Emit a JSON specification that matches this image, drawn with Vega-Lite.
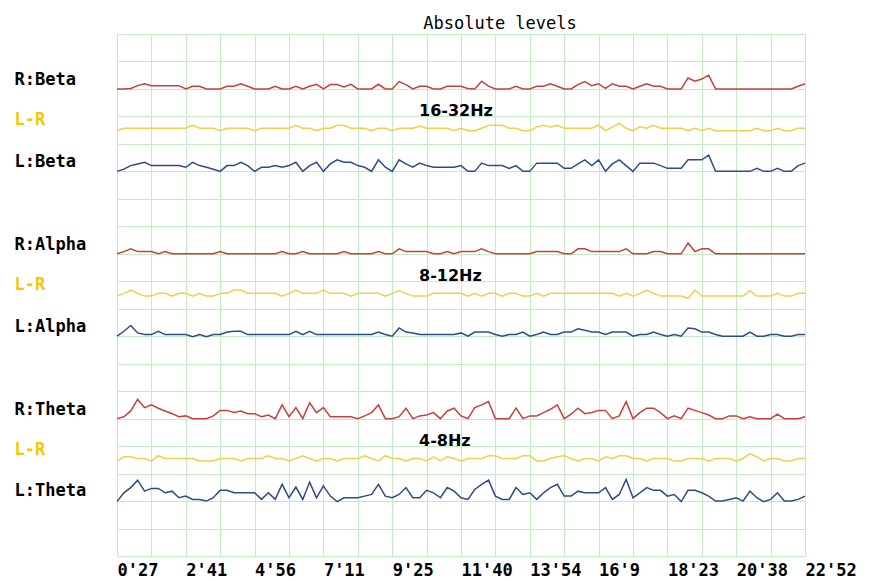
{
"$schema": "https://vega.github.io/schema/vega-lite/v6.json",
"width": 688,
"height": 522,
"autosize": {"type": "none"},
"padding": {"left": 117, "top": 34, "right": 68, "bottom": 25},
"background": "white",
"title": {"text": "Absolute levels", "font": "DejaVu Sans Mono", "fontSize": 17, "fontWeight": "normal", "color": "#000000", "anchor": "middle", "dx": 39, "offset": 1},
"config": {"view": {"stroke": "#c4ecc4", "strokeWidth": 1}},
"datasets": {
"levels": [
{"n":0,"rb":170.0,"yb":154.8,"lb":140.0,"ra":110.0,"ya":94.6,"la":80.0,"rt":50.0,"yt":34.6,"lt":19.8},
{"n":1,"rb":170.0,"yb":155.7,"lb":140.8,"ra":110.8,"ya":95.6,"la":81.8,"rt":50.7,"yt":36.1,"lt":23.0},
{"n":2,"rb":170.2,"yb":155.7,"lb":142.1,"ra":111.8,"ya":96.8,"la":83.9,"rt":52.8,"yt":36.1,"lt":24.9},
{"n":3,"rb":171.2,"yb":155.7,"lb":142.7,"ra":110.8,"ya":95.6,"la":81.2,"rt":57.0,"yt":35.5,"lt":27.6},
{"n":4,"rb":171.9,"yb":155.7,"lb":143.3,"ra":110.8,"ya":94.6,"la":80.6,"rt":54.0,"yt":35.5,"lt":23.6},
{"n":5,"rb":171.2,"yb":155.7,"lb":142.1,"ra":110.8,"ya":94.6,"la":80.6,"rt":55.0,"yt":34.6,"lt":24.6},
{"n":6,"rb":171.2,"yb":155.7,"lb":142.1,"ra":110.0,"ya":95.6,"la":81.8,"rt":53.8,"yt":36.5,"lt":24.6},
{"n":7,"rb":171.2,"yb":155.7,"lb":142.1,"ra":110.8,"ya":95.6,"la":80.6,"rt":52.8,"yt":35.5,"lt":23.0},
{"n":8,"rb":171.2,"yb":155.7,"lb":142.1,"ra":110.0,"ya":94.6,"la":80.6,"rt":51.8,"yt":35.5,"lt":23.6},
{"n":9,"rb":171.2,"yb":155.7,"lb":142.1,"ra":110.0,"ya":95.6,"la":80.6,"rt":50.7,"yt":35.5,"lt":21.2},
{"n":10,"rb":170.0,"yb":155.7,"lb":141.5,"ra":110.0,"ya":95.6,"la":80.6,"rt":51.0,"yt":35.5,"lt":21.8},
{"n":11,"rb":171.0,"yb":156.8,"lb":143.3,"ra":110.0,"ya":94.6,"la":79.8,"rt":50.0,"yt":35.5,"lt":20.6},
{"n":12,"rb":171.0,"yb":155.7,"lb":142.1,"ra":110.0,"ya":95.6,"la":80.6,"rt":50.0,"yt":34.6,"lt":20.6},
{"n":13,"rb":170.0,"yb":155.7,"lb":141.5,"ra":110.0,"ya":94.6,"la":79.8,"rt":50.0,"yt":34.6,"lt":20.0},
{"n":14,"rb":170.0,"yb":155.7,"lb":140.8,"ra":110.0,"ya":94.6,"la":80.6,"rt":51.0,"yt":34.6,"lt":21.2},
{"n":15,"rb":170.0,"yb":154.8,"lb":140.0,"ra":110.8,"ya":95.6,"la":80.6,"rt":53.0,"yt":35.5,"lt":23.9},
{"n":16,"rb":171.0,"yb":155.7,"lb":142.1,"ra":110.0,"ya":95.6,"la":81.5,"rt":53.0,"yt":35.5,"lt":23.9},
{"n":17,"rb":171.0,"yb":155.7,"lb":142.1,"ra":110.0,"ya":96.8,"la":81.8,"rt":52.2,"yt":35.5,"lt":23.0},
{"n":18,"rb":171.9,"yb":155.7,"lb":143.3,"ra":110.0,"ya":96.8,"la":81.8,"rt":52.8,"yt":34.6,"lt":23.0},
{"n":19,"rb":171.0,"yb":155.7,"lb":142.1,"ra":110.0,"ya":95.6,"la":80.6,"rt":51.8,"yt":35.5,"lt":23.0},
{"n":20,"rb":170.0,"yb":154.8,"lb":140.0,"ra":110.0,"ya":95.6,"la":80.6,"rt":51.8,"yt":35.5,"lt":23.0},
{"n":21,"rb":170.0,"yb":155.7,"lb":141.5,"ra":110.0,"ya":95.6,"la":80.6,"rt":50.7,"yt":35.5,"lt":20.6},
{"n":22,"rb":170.0,"yb":155.7,"lb":141.5,"ra":110.0,"ya":95.6,"la":80.6,"rt":51.3,"yt":36.5,"lt":23.0},
{"n":23,"rb":171.0,"yb":155.7,"lb":142.1,"ra":110.0,"ya":95.6,"la":80.6,"rt":50.0,"yt":35.5,"lt":20.6},
{"n":24,"rb":170.0,"yb":155.7,"lb":141.5,"ra":110.8,"ya":94.6,"la":80.6,"rt":55.0,"yt":35.5,"lt":26.1},
{"n":25,"rb":170.0,"yb":155.7,"lb":142.1,"ra":110.0,"ya":95.6,"la":80.6,"rt":50.7,"yt":34.6,"lt":21.2},
{"n":26,"rb":171.0,"yb":156.8,"lb":143.3,"ra":110.0,"ya":96.8,"la":81.8,"rt":54.0,"yt":35.5,"lt":25.1},
{"n":27,"rb":170.0,"yb":155.7,"lb":140.0,"ra":110.8,"ya":95.6,"la":80.6,"rt":50.0,"yt":36.5,"lt":20.6},
{"n":28,"rb":171.0,"yb":155.7,"lb":142.1,"ra":110.0,"ya":95.6,"la":81.8,"rt":55.8,"yt":35.5,"lt":26.9},
{"n":29,"rb":171.7,"yb":154.8,"lb":143.3,"ra":110.0,"ya":95.6,"la":80.6,"rt":52.2,"yt":34.6,"lt":21.2},
{"n":30,"rb":170.0,"yb":155.7,"lb":140.0,"ra":110.0,"ya":96.8,"la":80.6,"rt":54.0,"yt":35.5,"lt":25.5},
{"n":31,"rb":171.6,"yb":155.7,"lb":142.7,"ra":110.0,"ya":95.6,"la":80.6,"rt":50.7,"yt":35.5,"lt":21.8},
{"n":32,"rb":171.6,"yb":156.8,"lb":144.2,"ra":110.0,"ya":95.6,"la":80.6,"rt":50.7,"yt":34.6,"lt":19.8},
{"n":33,"rb":170.7,"yb":156.8,"lb":143.3,"ra":110.8,"ya":95.6,"la":80.6,"rt":50.7,"yt":35.5,"lt":21.2},
{"n":34,"rb":171.7,"yb":155.7,"lb":143.3,"ra":110.0,"ya":94.6,"la":80.6,"rt":50.7,"yt":35.5,"lt":21.2},
{"n":35,"rb":170.0,"yb":155.7,"lb":142.1,"ra":110.0,"ya":95.6,"la":80.6,"rt":50.0,"yt":35.5,"lt":21.2},
{"n":36,"rb":170.0,"yb":155.7,"lb":141.5,"ra":110.0,"ya":95.6,"la":80.6,"rt":51.0,"yt":36.5,"lt":21.8},
{"n":37,"rb":170.0,"yb":154.8,"lb":140.0,"ra":110.0,"ya":95.6,"la":80.6,"rt":52.2,"yt":35.5,"lt":22.4},
{"n":38,"rb":171.7,"yb":155.7,"lb":144.2,"ra":110.8,"ya":95.6,"la":81.5,"rt":55.0,"yt":34.6,"lt":26.1},
{"n":39,"rb":170.0,"yb":155.7,"lb":141.5,"ra":110.0,"ya":94.6,"la":80.6,"rt":50.0,"yt":36.5,"lt":21.8},
{"n":40,"rb":170.0,"yb":154.8,"lb":140.0,"ra":110.0,"ya":95.6,"la":80.0,"rt":50.0,"yt":35.5,"lt":21.2},
{"n":41,"rb":172.7,"yb":155.7,"lb":144.2,"ra":111.8,"ya":96.6,"la":83.0,"rt":50.7,"yt":35.5,"lt":22.4},
{"n":42,"rb":171.6,"yb":155.7,"lb":142.7,"ra":110.8,"ya":95.6,"la":81.5,"rt":53.8,"yt":34.6,"lt":24.9},
{"n":43,"rb":170.0,"yb":155.7,"lb":141.5,"ra":110.8,"ya":94.6,"la":81.2,"rt":50.0,"yt":35.5,"lt":21.2},
{"n":44,"rb":171.0,"yb":156.5,"lb":143.0,"ra":110.8,"ya":94.6,"la":80.6,"rt":51.0,"yt":35.5,"lt":21.2},
{"n":45,"rb":171.0,"yb":155.7,"lb":142.1,"ra":110.8,"ya":94.6,"la":80.6,"rt":51.3,"yt":34.6,"lt":23.9},
{"n":46,"rb":170.0,"yb":155.7,"lb":141.5,"ra":110.0,"ya":95.6,"la":80.6,"rt":52.2,"yt":36.1,"lt":23.0},
{"n":47,"rb":170.0,"yb":155.7,"lb":141.5,"ra":110.0,"ya":95.6,"la":80.6,"rt":50.0,"yt":34.6,"lt":21.2},
{"n":48,"rb":171.0,"yb":155.7,"lb":141.5,"ra":110.8,"ya":95.6,"la":80.6,"rt":52.8,"yt":36.1,"lt":24.9},
{"n":49,"rb":171.0,"yb":154.8,"lb":141.5,"ra":110.0,"ya":95.6,"la":80.6,"rt":53.8,"yt":35.5,"lt":23.6},
{"n":50,"rb":171.0,"yb":155.7,"lb":142.1,"ra":110.8,"ya":95.6,"la":81.2,"rt":51.0,"yt":34.6,"lt":21.2},
{"n":51,"rb":170.2,"yb":154.8,"lb":140.0,"ra":110.8,"ya":94.6,"la":80.0,"rt":50.0,"yt":35.5,"lt":20.6},
{"n":52,"rb":170.0,"yb":154.8,"lb":140.0,"ra":110.8,"ya":95.6,"la":81.5,"rt":54.0,"yt":35.5,"lt":24.2},
{"n":53,"rb":172.8,"yb":155.7,"lb":143.0,"ra":111.8,"ya":94.6,"la":81.5,"rt":55.0,"yt":35.5,"lt":26.1},
{"n":54,"rb":171.0,"yb":156.8,"lb":142.1,"ra":110.8,"ya":95.6,"la":81.5,"rt":56.2,"yt":36.5,"lt":27.6},
{"n":55,"rb":170.0,"yb":156.8,"lb":142.1,"ra":110.0,"ya":95.6,"la":80.6,"rt":50.0,"yt":36.5,"lt":21.8},
{"n":56,"rb":170.0,"yb":156.8,"lb":142.1,"ra":110.0,"ya":94.6,"la":80.0,"rt":50.0,"yt":35.5,"lt":20.6},
{"n":57,"rb":170.0,"yb":155.7,"lb":141.1,"ra":110.0,"ya":95.6,"la":80.6,"rt":50.0,"yt":35.5,"lt":20.6},
{"n":58,"rb":171.0,"yb":155.7,"lb":142.1,"ra":110.0,"ya":95.6,"la":80.6,"rt":53.8,"yt":35.5,"lt":24.9},
{"n":59,"rb":170.0,"yb":154.8,"lb":140.0,"ra":110.0,"ya":94.6,"la":81.5,"rt":50.0,"yt":36.5,"lt":22.4},
{"n":60,"rb":170.0,"yb":154.8,"lb":140.0,"ra":110.0,"ya":94.6,"la":80.0,"rt":51.0,"yt":36.5,"lt":23.0},
{"n":61,"rb":171.0,"yb":156.2,"lb":143.0,"ra":110.8,"ya":95.6,"la":80.6,"rt":51.0,"yt":34.6,"lt":20.6},
{"n":62,"rb":171.0,"yb":156.8,"lb":143.0,"ra":110.8,"ya":94.6,"la":81.5,"rt":52.2,"yt":34.6,"lt":23.0},
{"n":63,"rb":171.9,"yb":156.2,"lb":143.0,"ra":110.8,"ya":95.6,"la":80.6,"rt":53.4,"yt":35.5,"lt":24.9},
{"n":64,"rb":171.0,"yb":156.8,"lb":143.0,"ra":110.8,"ya":95.6,"la":80.6,"rt":55.0,"yt":36.1,"lt":26.1},
{"n":65,"rb":170.0,"yb":155.7,"lb":141.1,"ra":110.0,"ya":95.6,"la":81.5,"rt":50.0,"yt":36.5,"lt":21.8},
{"n":66,"rb":170.0,"yb":155.7,"lb":141.1,"ra":110.0,"ya":95.6,"la":81.5,"rt":51.6,"yt":35.5,"lt":21.8},
{"n":67,"rb":171.6,"yb":155.7,"lb":142.7,"ra":111.8,"ya":95.6,"la":82.7,"rt":53.8,"yt":34.6,"lt":23.6},
{"n":68,"rb":172.7,"yb":155.7,"lb":144.2,"ra":111.8,"ya":95.6,"la":82.2,"rt":51.8,"yt":35.5,"lt":23.0},
{"n":69,"rb":171.2,"yb":155.7,"lb":142.1,"ra":110.8,"ya":95.6,"la":81.5,"rt":52.2,"yt":35.5,"lt":23.0},
{"n":70,"rb":171.9,"yb":156.8,"lb":144.2,"ra":110.8,"ya":95.6,"la":81.5,"rt":53.0,"yt":34.6,"lt":23.0},
{"n":71,"rb":170.2,"yb":154.8,"lb":140.0,"ra":110.8,"ya":95.6,"la":80.6,"rt":53.0,"yt":36.1,"lt":24.9},
{"n":72,"rb":171.9,"yb":156.2,"lb":142.7,"ra":110.8,"ya":95.6,"la":81.5,"rt":50.0,"yt":35.5,"lt":20.6},
{"n":73,"rb":171.0,"yb":157.5,"lb":144.2,"ra":110.8,"ya":94.6,"la":81.5,"rt":51.0,"yt":36.5,"lt":22.4},
{"n":74,"rb":171.0,"yb":155.7,"lb":142.1,"ra":111.8,"ya":95.6,"la":81.5,"rt":56.2,"yt":36.5,"lt":27.9},
{"n":75,"rb":170.0,"yb":154.8,"lb":140.0,"ra":110.0,"ya":94.6,"la":80.0,"rt":50.0,"yt":35.5,"lt":21.2},
{"n":76,"rb":171.0,"yb":156.2,"lb":143.0,"ra":110.0,"ya":95.6,"la":80.6,"rt":52.2,"yt":35.5,"lt":23.0},
{"n":77,"rb":171.9,"yb":155.7,"lb":143.0,"ra":110.0,"ya":96.8,"la":80.6,"rt":53.8,"yt":34.6,"lt":24.9},
{"n":78,"rb":171.0,"yb":156.8,"lb":143.0,"ra":110.8,"ya":95.6,"la":81.5,"rt":53.8,"yt":35.5,"lt":23.9},
{"n":79,"rb":171.0,"yb":155.7,"lb":142.1,"ra":110.8,"ya":94.6,"la":80.6,"rt":52.2,"yt":35.5,"lt":23.9},
{"n":80,"rb":170.0,"yb":155.7,"lb":141.1,"ra":110.0,"ya":94.6,"la":80.0,"rt":50.0,"yt":35.5,"lt":21.8},
{"n":81,"rb":170.0,"yb":155.7,"lb":141.1,"ra":110.0,"ya":94.6,"la":80.6,"rt":51.0,"yt":34.6,"lt":22.4},
{"n":82,"rb":170.0,"yb":155.7,"lb":141.1,"ra":110.0,"ya":94.6,"la":80.0,"rt":50.0,"yt":34.6,"lt":19.8},
{"n":83,"rb":174.0,"yb":154.8,"lb":144.2,"ra":113.9,"ya":93.8,"la":83.0,"rt":53.8,"yt":35.5,"lt":23.9},
{"n":84,"rb":172.8,"yb":155.7,"lb":144.2,"ra":110.8,"ya":96.8,"la":82.7,"rt":53.0,"yt":35.5,"lt":23.9},
{"n":85,"rb":173.6,"yb":154.8,"lb":144.2,"ra":111.8,"ya":94.6,"la":81.5,"rt":52.2,"yt":35.5,"lt":23.0},
{"n":86,"rb":175.0,"yb":155.7,"lb":145.9,"ra":111.8,"ya":94.6,"la":81.5,"rt":51.3,"yt":34.6,"lt":21.8},
{"n":87,"rb":170.0,"yb":154.8,"lb":140.0,"ra":110.0,"ya":94.6,"la":80.6,"rt":50.0,"yt":35.5,"lt":20.0},
{"n":88,"rb":170.0,"yb":154.8,"lb":140.0,"ra":110.0,"ya":94.6,"la":80.0,"rt":50.0,"yt":35.5,"lt":20.0},
{"n":89,"rb":170.0,"yb":154.8,"lb":140.0,"ra":110.0,"ya":94.6,"la":80.0,"rt":51.0,"yt":35.5,"lt":20.6},
{"n":90,"rb":170.0,"yb":154.8,"lb":140.0,"ra":110.0,"ya":94.6,"la":80.0,"rt":51.0,"yt":34.6,"lt":21.2},
{"n":91,"rb":170.0,"yb":154.8,"lb":140.0,"ra":110.0,"ya":94.6,"la":80.0,"rt":50.0,"yt":35.5,"lt":20.0},
{"n":92,"rb":170.0,"yb":154.8,"lb":140.0,"ra":110.0,"ya":96.6,"la":81.5,"rt":50.7,"yt":37.3,"lt":23.6},
{"n":93,"rb":170.0,"yb":155.7,"lb":141.1,"ra":110.0,"ya":94.6,"la":80.0,"rt":50.0,"yt":36.1,"lt":21.2},
{"n":94,"rb":170.0,"yb":154.8,"lb":140.0,"ra":110.0,"ya":94.6,"la":80.0,"rt":50.0,"yt":34.6,"lt":19.8},
{"n":95,"rb":170.0,"yb":154.8,"lb":140.0,"ra":110.0,"ya":94.6,"la":80.6,"rt":50.0,"yt":35.5,"lt":20.6},
{"n":96,"rb":170.0,"yb":155.7,"lb":141.1,"ra":110.0,"ya":95.6,"la":80.6,"rt":51.6,"yt":35.5,"lt":23.0},
{"n":97,"rb":170.0,"yb":154.8,"lb":140.0,"ra":110.0,"ya":94.6,"la":80.0,"rt":50.0,"yt":34.6,"lt":20.0},
{"n":98,"rb":170.0,"yb":154.8,"lb":140.0,"ra":110.0,"ya":94.6,"la":80.0,"rt":50.0,"yt":34.6,"lt":20.0},
{"n":99,"rb":171.0,"yb":155.7,"lb":142.1,"ra":110.0,"ya":95.6,"la":80.6,"rt":50.0,"yt":35.5,"lt":20.6},
{"n":100,"rb":171.9,"yb":155.7,"lb":143.0,"ra":110.0,"ya":95.6,"la":80.6,"rt":50.7,"yt":35.5,"lt":21.8}
],
"bands": [
{"n":43.9,"level":161.8,"band":"16-32Hz"},
{"n":43.9,"level":101.8,"band":"8-12Hz"},
{"n":43.9,"level":41.8,"band":"4-8Hz"}
]
},
"layer": [
{
"data": {"name": "levels"},
"transform": [{"fold": ["rb","yb","lb","ra","ya","la","rt","yt","lt"], "as": ["series","level"]}],
"mark": {"type": "line", "strokeWidth": 1.5, "interpolate": "linear"},
"encoding": {
"x": {"field": "n", "type": "quantitative", "scale": {"domain": [0,100], "nice": false, "zero": false},
"axis": {"values": [0,5,10,15,20,25,30,35,40,45,50,55,60,65,70,75,80,85,90,95,100],
"labelExpr": "datum.value % 10 === 0 ? [\"0'27\",\"2'41\",\"4'56\",\"7'11\",\"9'25\",\"11'40\",\"13'54\",\"16'9\",\"18'23\",\"20'38\",\"22'52\"][datum.value / 10] : ''",
"labelAlign": "left", "labelBaseline": "top", "labelPadding": 6, "labelFont": "DejaVu Sans Mono", "labelFontSize": 17, "labelFontWeight": "bold", "labelColor": "#000000", "labelFlush": false, "labelOverlap": false, "ticks": false, "domain": false, "grid": true, "gridColor": "#c4ecc4", "gridOpacity": 1, "title": null}},
"y": {"field": "level", "type": "quantitative", "scale": {"domain": [0,190], "nice": false, "zero": false},
"axis": {"orient": "left", "values": [0,10,20,30,40,50,60,70,80,90,100,110,120,130,140,150,160,170,180,190], "labels": false, "ticks": false, "domain": false, "grid": true, "gridColor": "#c4ecc4", "gridOpacity": 1, "title": null}},
"color": {"field": "series", "type": "nominal", "legend": null,
"scale": {"domain": ["rb","yb","lb","ra","ya","la","rt","yt","lt"], "range": ["#c8403a","#f0d048","#2c4c84","#c8403a","#f0d048","#2c4c84","#c8403a","#f0d048","#2c4c84"]}}
}
},
{
"data": {"name": "bands"},
"mark": {"type": "text", "align": "left", "baseline": "middle", "font": "DejaVu Sans", "fontWeight": "bold", "fontSize": 16, "color": "#000000"},
"encoding": {
"x": {"field": "n", "type": "quantitative",
"axis": {"values": [0,5,10,15,20,25,30,35,40,45,50,55,60,65,70,75,80,85,90,95,100],
"labelExpr": "datum.value % 10 === 0 ? [\"0'27\",\"2'41\",\"4'56\",\"7'11\",\"9'25\",\"11'40\",\"13'54\",\"16'9\",\"18'23\",\"20'38\",\"22'52\"][datum.value / 10] : ''",
"labelAlign": "left", "labelBaseline": "top", "labelPadding": 6, "labelFont": "DejaVu Sans Mono", "labelFontSize": 17, "labelFontWeight": "bold", "labelColor": "#000000", "labelFlush": false, "labelOverlap": false, "ticks": false, "domain": false, "grid": true, "gridColor": "#c4ecc4", "gridOpacity": 1, "title": null}},
"y": {"field": "level", "type": "quantitative",
"axis": {"orient": "left", "values": [173.5,158.7,143.7,113.5,98.7,83.7,53.5,38.7,23.7],
"labelExpr": "datum.value > 170 ? 'R:Beta' : datum.value > 150 ? 'L-R' : datum.value > 130 ? 'L:Beta' : datum.value > 110 ? 'R:Alpha' : datum.value > 90 ? 'L-R' : datum.value > 70 ? 'L:Alpha' : datum.value > 50 ? 'R:Theta' : datum.value > 30 ? 'L-R' : 'L:Theta'",
"labelAlign": "left", "labelBaseline": "middle", "labelPadding": 103, "labelFont": "DejaVu Sans Mono", "labelFontSize": 17, "labelFontWeight": "bold",
"labelColor": {"condition": {"test": "(datum.value > 150 && datum.value < 165) || (datum.value > 90 && datum.value < 105) || (datum.value > 30 && datum.value < 45)", "value": "#f5c800"}, "value": "#000000"},
"labelOverlap": false, "ticks": false, "domain": false, "grid": false, "title": null}},
"text": {"field": "band"}
}
}
],
"resolve": {"axis": {"y": "independent"}}
}
